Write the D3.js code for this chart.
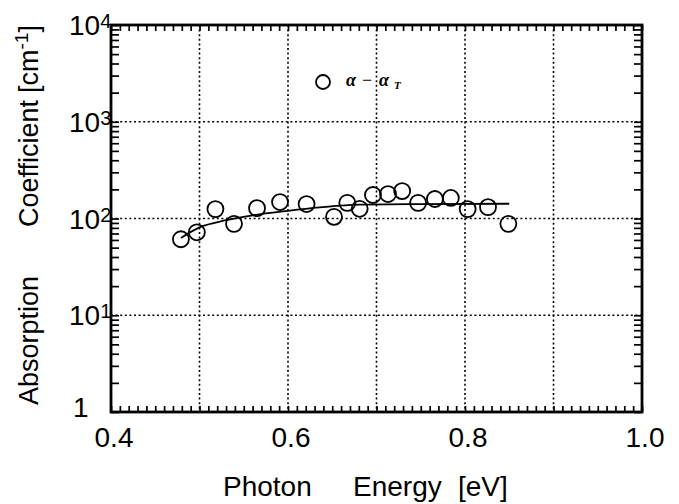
<!DOCTYPE html>
<html>
<head>
<meta charset="utf-8">
<script src="https://cdn.jsdelivr.net/npm/d3@7"></script>
<style>
  html, body { margin: 0; padding: 0; background: #fff; }
  svg { display: block; }
</style>
</head>
<body>
<svg id="chart" width="679" height="504"></svg>
<script>
// ---- data ----
const pointEnergy = [0.479, 0.497, 0.518, 0.539, 0.565, 0.591, 0.621, 0.652, 0.667, 0.681,
                     0.696, 0.713, 0.729, 0.747, 0.766, 0.784, 0.803, 0.826, 0.849];
const pointAlpha  = [61, 72, 125, 88, 128, 148, 141, 104, 145, 126,
                     175, 179, 192, 145, 159, 163, 125, 131, 88];
const fitEnergy = [0.479, 0.50, 0.53, 0.56, 0.60, 0.636, 0.68, 0.75, 0.85];
const fitAlpha  = [63, 81, 96, 108, 120, 130, 139, 141, 142];
const xTickLabels = [0.4, 0.6, 0.8, 1.0];
const xGrid = [0.5, 0.6, 0.7, 0.8, 0.9];
const yExponents = [0, 1, 2, 3, 4];
const yGridExp = [1, 2, 3];
const legendLabel = "α − α";
const legendSub = "T";

// ---- layout ----
const svg = d3.select("#chart");
const L = 111, R = 642, T = 25, B = 412;
const x = d3.scaleLinear().domain([0.4, 1.0]).range([L, R]);
const y = d3.scaleLog().domain([1, 1e4]).range([B, T]);
const font = "'Liberation Sans', Arial, Helvetica, sans-serif";

// grid
const grid = svg.append("g").attr("stroke", "#000").attr("stroke-width", 1.6)
  .attr("stroke-dasharray", "2,2.6");
grid.selectAll("line.vx").data(xGrid).join("line")
  .attr("x1", d => x(d)).attr("x2", d => x(d)).attr("y1", T).attr("y2", B);
grid.selectAll("line.hy").data(yGridExp).join("line")
  .attr("x1", L).attr("x2", R).attr("y1", d => y(Math.pow(10, d))).attr("y2", d => y(Math.pow(10, d)));

// minor ticks
const xMinor = d3.range(40, 101).map(d => d / 100);
const yMinor = [];
for (let e = 0; e < 4; e++) for (let m = 1; m <= 9; m++) yMinor.push(m * Math.pow(10, e));
yMinor.push(1e4);

function styleAxis(g) {
  g.select(".domain").remove();
  g.selectAll(".tick line").attr("stroke", "#000").attr("stroke-width", 1.7);
  g.selectAll(".tick text").remove();
}
svg.append("g").attr("transform", `translate(0,${B})`)
  .call(d3.axisBottom(x).tickValues(xMinor).tickSize(-6).tickFormat("")).call(styleAxis);
svg.append("g").attr("transform", `translate(0,${T})`)
  .call(d3.axisTop(x).tickValues(xMinor).tickSize(-6).tickFormat("")).call(styleAxis);
svg.append("g").attr("transform", `translate(${L},0)`)
  .call(d3.axisLeft(y).tickValues(yMinor).tickSize(-8).tickFormat("")).call(styleAxis);
svg.append("g").attr("transform", `translate(${R},0)`)
  .call(d3.axisRight(y).tickValues(yMinor).tickSize(-8).tickFormat("")).call(styleAxis);

// frame
svg.append("rect").attr("x", L).attr("y", T).attr("width", R - L).attr("height", B - T)
  .attr("fill", "none").attr("stroke", "#000").attr("stroke-width", 2.8);

// x tick labels
svg.selectAll("text.xl").data(xTickLabels).join("text")
  .attr("x", d => x(d) + 3).attr("y", 447)
  .attr("text-anchor", "middle").attr("font-family", font).attr("font-size", 28)
  .text(d => d.toFixed(1));

// y tick labels
yExponents.forEach(e => {
  const t = svg.append("text").attr("font-family", font).attr("font-size", 28);
  if (e === 0) {
    t.attr("x", 73).attr("y", y(1) + 5).text("1");
  } else {
    t.attr("x", 69).attr("y", y(Math.pow(10, e)) + 10).text("10");
    t.append("tspan").attr("font-size", 20).attr("dy", -7).text(e);
  }
});

// axis titles
const xt = [["Photon", 223], ["Energy", 353], ["[eV]", 458]];
xt.forEach(([s, px]) => svg.append("text").attr("x", px).attr("y", 496)
  .attr("font-family", font).attr("font-size", 28).text(s));

const yt = svg.append("g").attr("transform", "translate(38,0) rotate(-90)");
yt.append("text").attr("x", -405).attr("y", 0).attr("font-family", font).attr("font-size", 27).text("Absorption");
yt.append("text").attr("x", -227).attr("y", 0).attr("font-family", font).attr("font-size", 27).text("Coefficient");
const cm = yt.append("text").attr("x", -93).attr("y", 0).attr("font-family", font).attr("font-size", 27).text("[cm");
cm.append("tspan").attr("dy", -10).attr("font-size", 19).text("-1");
cm.append("tspan").attr("dy", 10).text("]");

// fit line
const line = d3.line().x(d => x(d[0])).y(d => y(d[1])).curve(d3.curveMonotoneX);
svg.append("path").datum(fitEnergy.map((e, i) => [e, fitAlpha[i]]))
  .attr("d", line).attr("fill", "none").attr("stroke", "#000").attr("stroke-width", 1.8);

// points
svg.append("g").selectAll("circle").data(pointEnergy.map((e, i) => [e, pointAlpha[i]])).join("circle")
  .attr("cx", d => x(d[0])).attr("cy", d => y(d[1])).attr("r", 8)
  .attr("fill", "none").attr("stroke", "#000").attr("stroke-width", 1.8);

// legend
svg.append("circle").attr("cx", 323).attr("cy", 82).attr("r", 7)
  .attr("fill", "none").attr("stroke", "#000").attr("stroke-width", 1.8);
const lt = svg.append("text").attr("y", 86).attr("font-family", "'Liberation Serif', 'Times New Roman', serif")
  .attr("font-style", "italic").attr("font-size", 18).attr("font-weight", "bold");
const parts = legendLabel.split(" ");
lt.append("tspan").attr("x", 346).text(parts[0]);
lt.append("tspan").attr("x", 362).attr("font-style", "normal").attr("font-weight", "normal").text(parts[1]);
lt.append("tspan").attr("x", 379).text(parts[2]);
lt.append("tspan").attr("x", 394).attr("dy", 3).attr("font-size", 11).text(legendSub);
</script>
</body>
</html>
